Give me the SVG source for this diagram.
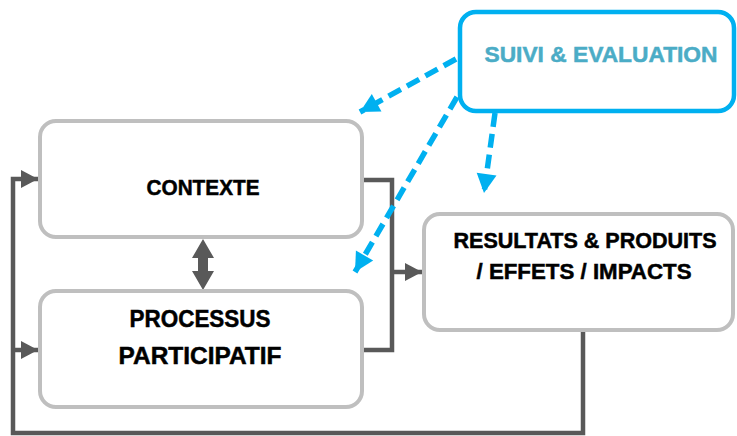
<svg xmlns="http://www.w3.org/2000/svg" width="737" height="436" viewBox="0 0 737 436">
<defs>
<style>
.box{fill:#fff;stroke:#BFBFBF;stroke-width:4}
.sbox{fill:#fff;stroke:#00B0F0;stroke-width:4.5}
.lbl{font-family:"Liberation Sans",Arial,sans-serif;font-weight:bold;fill:#000;stroke:#000;stroke-width:0.5;text-anchor:middle}
.gline{fill:none;stroke:#595959;stroke-width:4.5}
.bline{fill:none;stroke:#00B0F0;stroke-width:5.5;stroke-dasharray:14 7}
</style>
<marker id="ga" markerUnits="userSpaceOnUse" markerWidth="20" markerHeight="20" viewBox="0 0 18 20" refX="17" refY="10" orient="auto">
<path d="M0,1 L17,10 L0,19 Z" fill="#595959"/>
</marker>
<marker id="ba" markerUnits="userSpaceOnUse" markerWidth="22" markerHeight="22" viewBox="0 0 20 22" refX="19" refY="11" orient="auto">
<path d="M0,1 L19,11 L0,21 Z" fill="#00B0F0"/>
</marker>
</defs>
<g id="connectors">
<path class="gline" d="M583,331 V433 H13 V179 H38" marker-end="url(#ga)"/>
<path class="gline" d="M13,350 H38" marker-end="url(#ga)"/>
<path class="gline" d="M362,180 H392 V350 H362"/>
<path class="gline" d="M392,272 H422" marker-end="url(#ga)"/>
<path d="M203,239 L214,258 L208,258 L208,271 L214,271 L203,290 L192,271 L198,271 L198,258 L192,258 Z" fill="#595959"/>
<path class="bline" d="M456,59 L360,112" marker-end="url(#ba)"/>
<path class="bline" d="M457,97 L355,272" marker-end="url(#ba)"/>
<path class="bline" d="M495,113 L484,193" marker-end="url(#ba)"/>
</g>
<g id="suivi">
<rect class="sbox" x="460" y="12" width="274" height="99" rx="16"/>
<text class="lbl" x="601" y="62" font-size="22" textLength="233" lengthAdjust="spacingAndGlyphs" style="fill:#4BACC6;stroke:#4BACC6">SUIVI &amp; EVALUATION</text>
</g>
<g id="contexte">
<rect class="box" x="40" y="121" width="322" height="116" rx="16"/>
<text class="lbl" x="203" y="195" font-size="22.5" textLength="113" lengthAdjust="spacingAndGlyphs">CONTEXTE</text>
</g>
<g id="processus">
<rect class="box" x="40" y="291" width="322" height="116" rx="16"/>
<text class="lbl" x="200" y="327" font-size="24" textLength="141" lengthAdjust="spacingAndGlyphs">PROCESSUS</text>
<text class="lbl" x="200" y="364" font-size="24" textLength="163" lengthAdjust="spacingAndGlyphs">PARTICIPATIF</text>
</g>
<g id="resultats">
<rect class="box" x="424" y="214" width="309" height="116" rx="16"/>
<text class="lbl" x="585" y="248" font-size="22" textLength="263" lengthAdjust="spacingAndGlyphs">RESULTATS &amp; PRODUITS</text>
<text class="lbl" x="584" y="279" font-size="22" textLength="215" lengthAdjust="spacingAndGlyphs">/ EFFETS / IMPACTS</text>
</g>
</svg>
